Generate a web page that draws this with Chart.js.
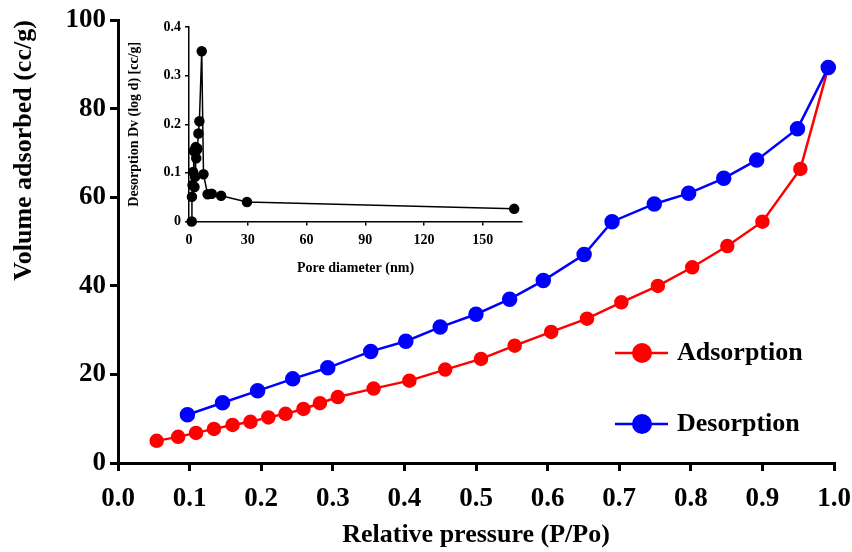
<!DOCTYPE html>
<html>
<head>
<meta charset="utf-8">
<script src="https://cdn.jsdelivr.net/npm/chart.js@4/dist/chart.umd.min.js"></script>
<style>
    body { margin: 0; background: #fff; }
    #wrap { position: relative; width: 852px; height: 552px; }
    #mainChart { position: absolute; left: 0; top: 0; }
    #insetChart { position: absolute; left: 110px; top: 10px; }
</style>
</head>
<body>
<div id="wrap">
    <canvas id="mainChart" width="852" height="552"></canvas>
    <canvas id="insetChart" width="430" height="275"></canvas>
</div>
<script>
// Isotherm data (relative pressure vs volume adsorbed)
const adsX = [0.054, 0.084, 0.109, 0.134, 0.160, 0.185, 0.210, 0.234, 0.259, 0.282, 0.307, 0.357, 0.407, 0.457, 0.507, 0.554, 0.605, 0.655, 0.703, 0.754, 0.802, 0.851, 0.900, 0.953, 0.992];
const adsY = [5.0, 5.9, 6.8, 7.7, 8.6, 9.3, 10.3, 11.1, 12.2, 13.5, 14.9, 16.8, 18.6, 21.1, 23.5, 26.5, 29.6, 32.6, 36.3, 40.0, 44.2, 49.0, 54.5, 66.4, 89.3];
const desX = [0.097, 0.146, 0.195, 0.244, 0.293, 0.353, 0.402, 0.450, 0.500, 0.547, 0.594, 0.651, 0.690, 0.749, 0.797, 0.846, 0.892, 0.949, 0.992];
const desY = [10.9, 13.6, 16.3, 19.0, 21.5, 25.2, 27.5, 30.7, 33.6, 37.0, 41.2, 47.1, 54.5, 58.5, 60.9, 64.3, 68.4, 75.5, 89.3];

// Inset: pore size distribution
const poreX = [1.4, 1.5, 1.8, 2.1, 2.4, 2.8, 3.1, 3.4, 3.7, 4.0, 4.3, 4.8, 5.3, 6.5, 7.4, 9.5, 11.6, 16.4, 29.6, 166];
const poreY = [0, 0.051, 0.075, 0.102, 0.145, 0.071, 0.092, 0.153, 0.13, 0.147, 0.15, 0.181, 0.206, 0.350, 0.097, 0.056, 0.057, 0.053, 0.040, 0.026];

const seriesNames = ['Adsorption', 'Desorption'];
const seriesColors = ['#ff0000', '#0000ff'];

const serif = '"Liberation Serif", "Times New Roman", serif';

function toPoints(xs, ys) {
    return xs.map((x, i) => ({ x: x, y: ys[i] }));
}

// legend drawn as line + marker + label, inside the plot
const legendPlugin = {
    id: 'lineLegend',
    afterDatasetsDraw(chart) {
        const ctx = chart.ctx;
        const rows = [353, 424];
        ctx.save();
        seriesNames.forEach((name, i) => {
            const y = rows[i];
            ctx.strokeStyle = seriesColors[i];
            ctx.lineWidth = 2.5;
            ctx.beginPath();
            ctx.moveTo(615, y);
            ctx.lineTo(668, y);
            ctx.stroke();
            ctx.fillStyle = seriesColors[i];
            ctx.beginPath();
            ctx.arc(642, y, 10, 0, Math.PI * 2);
            ctx.fill();
            ctx.fillStyle = '#000';
            ctx.font = 'bold 26px ' + serif;
            ctx.textBaseline = 'middle';
            ctx.textAlign = 'left';
            ctx.fillText(name, 677, y);
        });
        ctx.restore();
    }
};

new Chart(document.getElementById('mainChart').getContext('2d'), {
    type: 'scatter',
    data: {
        datasets: [
            {
                label: seriesNames[1],
                data: toPoints(desX, desY),
                showLine: true,
                borderColor: seriesColors[1],
                backgroundColor: seriesColors[1],
                borderWidth: 2.5,
                pointRadius: 6.5,
                pointHoverRadius: 6.5,
                clip: false,
                order: 1
            },
            {
                label: seriesNames[0],
                data: toPoints(adsX, adsY),
                showLine: true,
                borderColor: seriesColors[0],
                backgroundColor: seriesColors[0],
                borderWidth: 2.5,
                pointRadius: 6,
                pointHoverRadius: 6,
                clip: false,
                order: 2
            }
        ]
    },
    options: {
        responsive: false,
        animation: false,
        devicePixelRatio: 1,
        layout: { padding: { top: 20, right: 0, left: 0, bottom: 0 } },
        plugins: { legend: { display: false }, tooltip: { enabled: false } },
        scales: {
            x: {
                type: 'linear',
                min: 0,
                max: 1,
                ticks: {
                    stepSize: 0.1,
                    autoSkip: false,
                    maxRotation: 0,
                    padding: 12,
                    color: '#000',
                    font: { family: serif, size: 27, weight: 'bold' },
                    callback: v => v.toFixed(1)
                },
                grid: { drawOnChartArea: false, drawTicks: true, tickLength: 8, color: '#000', lineWidth: 3 },
                border: { color: '#000', width: 3 },
                title: {
                    display: true,
                    text: 'Relative pressure (P/Po)',
                    color: '#000',
                    font: { family: serif, size: 26, weight: 'bold' },
                    padding: { top: 0, bottom: 1 }
                },
                afterFit: s => {
                    s.height = 89;
                    s.paddingLeft = 0;
                    s.paddingRight = 18;
                }
            },
            y: {
                type: 'linear',
                min: 0,
                max: 100,
                ticks: {
                    stepSize: 20,
                    padding: 4,
                    color: '#000',
                    font: { family: serif, size: 27, weight: 'bold' }
                },
                grid: { drawOnChartArea: false, drawTicks: true, tickLength: 8, color: '#000', lineWidth: 3 },
                border: { color: '#000', width: 3 },
                title: {
                    display: true,
                    text: 'Volume adsorbed (cc/g)',
                    align: 'end',
                    color: '#000',
                    font: { family: serif, size: 26, weight: 'bold' },
                    padding: { top: 9, bottom: 0 }
                },
                afterFit: s => { s.width = 118; }
            }
        }
    },
    plugins: [legendPlugin]
});

new Chart(document.getElementById('insetChart').getContext('2d'), {
    type: 'scatter',
    data: {
        datasets: [{
            label: 'Desorption Dv (log d)',
            data: toPoints(poreX, poreY),
            showLine: true,
            borderColor: '#000',
            backgroundColor: '#000',
            borderWidth: 1.5,
            pointRadius: 4.5,
            pointHoverRadius: 4.5,
            clip: false
        }]
    },
    options: {
        responsive: false,
        animation: false,
        devicePixelRatio: 1,
        layout: { padding: { top: 17, right: 18, left: 0, bottom: 0 } },
        plugins: { legend: { display: false }, tooltip: { enabled: false } },
        scales: {
            x: {
                type: 'linear',
                min: 0,
                max: 170,
                ticks: {
                    stepSize: 30,
                    includeBounds: false,
                    autoSkip: false,
                    maxRotation: 0,
                    padding: 6,
                    color: '#000',
                    font: { family: serif, size: 14, weight: 'bold' }
                },
                grid: { drawOnChartArea: false, drawTicks: true, tickLength: 4, color: '#000', lineWidth: 1.5 },
                border: { color: '#000', width: 1.5 },
                title: {
                    display: true,
                    text: 'Pore diameter (nm)',
                    color: '#000',
                    font: { family: serif, size: 14, weight: 'bold' },
                    padding: { top: 0, bottom: 8 }
                },
                afterFit: s => { s.height = 63.5; }
            },
            y: {
                type: 'linear',
                min: 0,
                max: 0.4,
                ticks: {
                    stepSize: 0.1,
                    padding: 4,
                    color: '#000',
                    font: { family: serif, size: 14, weight: 'bold' },
                    callback: v => (v === 0 ? '0' : v.toFixed(1))
                },
                grid: { drawOnChartArea: false, drawTicks: true, tickLength: 4, color: '#000', lineWidth: 1.5 },
                border: { color: '#000', width: 1.5 },
                title: {
                    display: true,
                    text: 'Desorption Dv (log d) [cc/g]',
                    color: '#000',
                    font: { family: serif, size: 14, weight: 'bold' },
                    padding: { top: 16, bottom: 0 }
                },
                afterFit: s => { s.width = 79; }
            }
        }
    }
});
</script>
</body>
</html>
